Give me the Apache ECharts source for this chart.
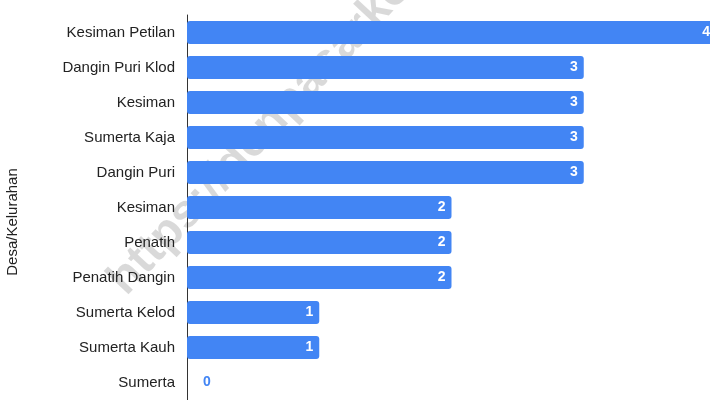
<!DOCTYPE html>
<html>
<head>
<meta charset="utf-8">
<script src="https://cdn.jsdelivr.net/npm/echarts@6/dist/echarts.min.js"></script>
<style>html,body{margin:0;padding:0;background:#fff}#c{width:710px;height:400px}</style>
</head>
<body>
<div id="c"></div>
<script>
const categories = ["Kesiman Petilan","Dangin Puri Klod","Kesiman","Sumerta Kaja","Dangin Puri","Kesiman","Penatih","Penatih Dangin","Sumerta Kelod","Sumerta Kauh","Sumerta"];
const values = [4,3,3,3,3,2,2,2,1,1,0];
const axisName = "Desa/Kelurahan";
const watermark = "https://denpasarkota.go.id";

const blue = '#4285F4';
const chart = echarts.init(document.getElementById('c'));
chart.setOption({
  animation: false,
  graphic: [{
    type: 'text', x: 134, y: 304, rotation: 0.82, z: -10, silent: true,
    style: { text: watermark, font: 'bold 47px "Liberation Sans", Arial', fill: 'rgba(0,0,0,0.15)', verticalAlign: 'bottom' }
  }],
  grid: { left: 187, right: -6, top: 15, bottom: 0, outerBoundsMode: 'none', containLabel: false },
  xAxis: { type: 'value', min: 0, max: 4, show: false },
  yAxis: {
    type: 'category', inverse: true, data: categories,
    name: axisName, nameLocation: 'middle', nameGap: 167,
    nameTextStyle: { fontFamily: '"Liberation Sans", Arial', fontSize: 15, color: '#222', padding: [0, 0, 0, -29] },
    axisLine: { show: true, lineStyle: { color: '#333', width: 1 } },
    axisTick: { show: false },
    axisLabel: { margin: 12, fontFamily: '"Liberation Sans", Arial', fontSize: 15, color: '#222' }
  },
  series: [{
    type: 'bar', barWidth: 23,
    itemStyle: { color: blue, borderRadius: 3 },
    label: { show: true, position: 'insideRight', distance: 6, color: '#fff', fontWeight: 'bold', fontSize: 14, fontFamily: '"Liberation Sans", Arial' },
    data: values.map(v => v === 0 ? { value: v, label: { position: 'right', distance: 16, color: blue } } : v)
  }]
});
</script>
</body>
</html>
